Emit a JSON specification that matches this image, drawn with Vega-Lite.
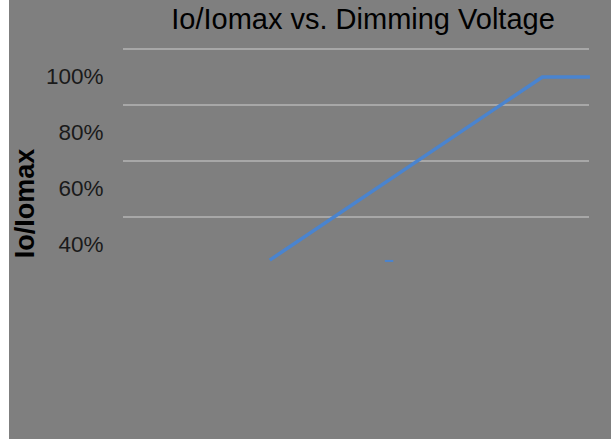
{
  "$schema": "https://vega.github.io/schema/vega-lite/v6.json",
  "width": 602,
  "height": 439,
  "autosize": {"type": "none"},
  "padding": {"left": 9, "top": 0, "right": 0, "bottom": 0},
  "background": "white",
  "config": {
    "view": {"fill": "#7f7f7f", "stroke": null},
    "font": "Liberation Sans"
  },
  "title": {
    "text": "Io/Iomax vs. Dimming Voltage",
    "fontSize": 29,
    "fontWeight": "normal",
    "color": "#000000",
    "font": "Liberation Sans",
    "anchor": "middle",
    "dx": 53,
    "offset": -58,
    "baseline": "alphabetic"
  },
  "datasets": {
    "grid": [{"g": 1.1}, {"g": 0.9}, {"g": 0.7}, {"g": 0.5}],
    "curve": [
      {"voltage": 3.15, "ratio": 0.346},
      {"voltage": 9.0, "ratio": 1.0},
      {"voltage": 10.02, "ratio": 1.0}
    ],
    "dash": [{"x1": 5.62, "x2": 5.8, "y": 0.343}]
  },
  "layer": [
    {
      "data": {"name": "grid"},
      "mark": {"type": "rule", "color": "#b4b4b4", "strokeWidth": 1.5},
      "encoding": {
        "y": {
          "field": "g",
          "type": "quantitative",
          "scale": {"domain": [-0.293, 1.275], "nice": false, "zero": false},
          "axis": {
            "values": [0.4, 0.6, 0.8, 1.0],
            "format": ".0%",
            "grid": false,
            "domain": false,
            "ticks": false,
            "offset": -94,
            "labelPadding": 0,
            "labelFontSize": 22.5,
            "labelColor": "#1a1a1a",
            "labelFont": "Liberation Sans",
            "title": "Io/Iomax",
            "titleFontSize": 27,
            "titleFontWeight": "bold",
            "titleColor": "#000000",
            "titleFont": "Liberation Sans",
            "titleX": -78,
            "titleY": 203,
            "titleAngle": -90,
            "titleAlign": "center",
            "titleBaseline": "middle"
          }
        },
        "x": {"datum": 0, "type": "quantitative", "scale": {"domain": [-2.446, 10.472], "nice": false, "zero": false}, "axis": null},
        "x2": {"datum": 10}
      }
    },
    {
      "data": {"name": "curve"},
      "mark": {"type": "line", "color": "#4a84cf", "strokeWidth": 3.5, "clip": true},
      "encoding": {
        "x": {"field": "voltage", "type": "quantitative"},
        "y": {"field": "ratio", "type": "quantitative"}
      }
    },
    {
      "data": {"name": "dash"},
      "mark": {"type": "rule", "color": "#4a84cf", "strokeWidth": 2},
      "encoding": {
        "x": {"field": "x1", "type": "quantitative"},
        "x2": {"field": "x2"},
        "y": {"field": "y", "type": "quantitative"}
      }
    }
  ]
}
